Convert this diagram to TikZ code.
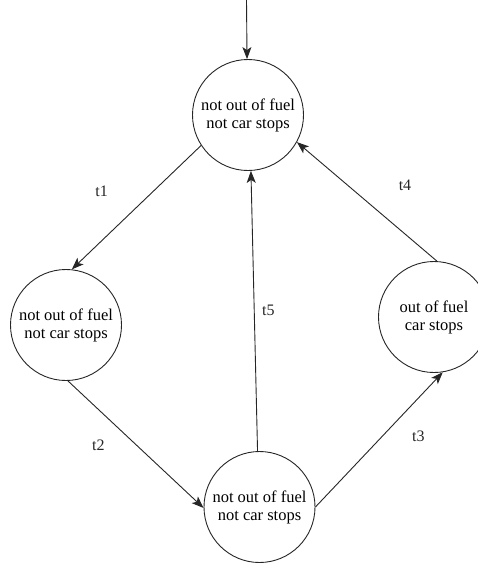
\documentclass[tikz,border=0pt]{standalone}
\usepackage{fontspec}
\setmainfont{Liberation Serif}
\usetikzlibrary{arrows.meta}
\begin{document}
\begin{tikzpicture}[x=1pt,y=-1pt,
  state/.style={circle,draw=black!85,line width=0.9pt,minimum size=111pt,inner sep=0pt,
    align=center,font=\fontsize{16.5}{18}\selectfont},
  trans/.style={draw=black!85,line width=0.9pt,-{Stealth[length=12pt,width=9pt,inset=3pt]}},
  tlabel/.style={font=\fontsize{16}{18}\selectfont,text=black!85}]
\useasboundingbox (0,0) rectangle (478,565);
\clip (0,0) rectangle (478,565);
\fill[white] (0,0) rectangle (478,565);

% states
\node[state] (A) at (248,115) {not out of fuel\\not car stops};
\node[state] (B) at (66,325) {not out of fuel\\not car stops};
\node[state] (C) at (259.5,507) {not out of fuel\\not car stops};
\node[state] (D) at (434,317) {out of fuel\\car stops};

% initial arrow
\coordinate (init) at (246.5,0);
\draw[trans] (init) -- (A.91);

% transitions
\draw[trans] (A.213) -- (B.84);
\draw[trans] (B.272) -- (C.181);
\draw[trans] (C.0) -- (D.279);
\draw[trans] (D.87) -- (A.331);
\draw[trans] (C.92) -- (A.273);

% transition labels
\node[tlabel] (l1) at (101.7,191.7) {t1};
\node[tlabel] (l2) at (98.3,445) {t2};
\node[tlabel] (l3) at (418.3,436.7) {t3};
\node[tlabel] (l4) at (405,185) {t4};
\node[tlabel] (l5) at (268.3,310) {t5};
\end{tikzpicture}
\end{document}
